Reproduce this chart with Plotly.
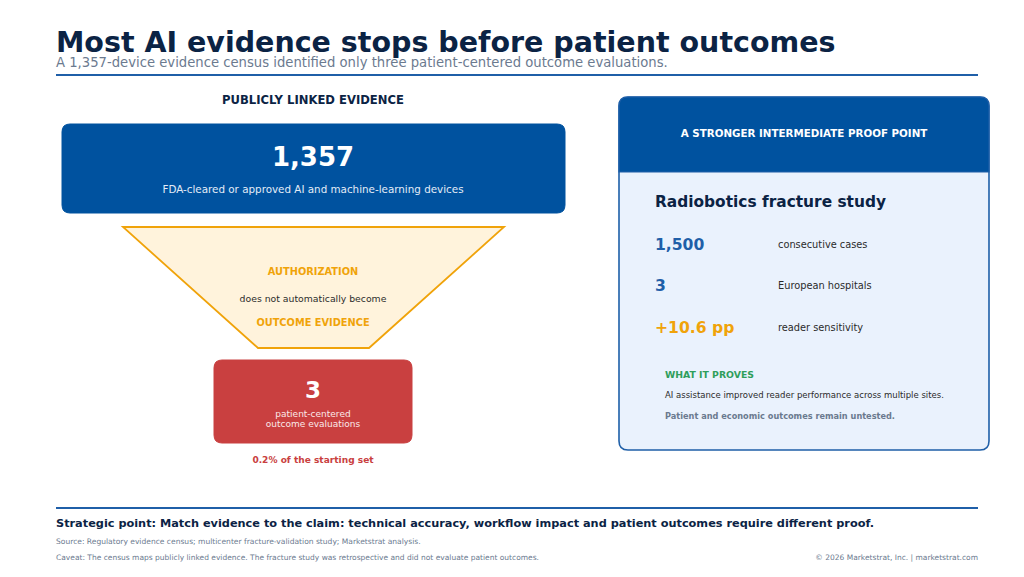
import plotly.graph_objects as go

# values
devices_total = 1357
outcome_evals = 3
funnel_steps = ["AUTHORIZATION", "does not automatically become", "OUTCOME EVIDENCE"]
study_values = ["1,500", "3", "+10.6 pp"]
study_labels = ["consecutive cases", "European hospitals", "reader sensitivity"]

NAVY = "#0b2344"
BLUE = "#00529f"
LINE = "#1f5fa8"
ORANGE = "#f0a30a"
RED = "#c94040"
GREEN = "#2e9e5b"
GRAY = "#6b7a8f"
DARK = "#2b2b2b"
FONT = "DejaVu Sans"


def rounded(x0, y0, x1, y1, r, top_only=False):
    # y grows downward (reversed axis), y0 is the top edge
    if top_only:
        return (f"M{x0},{y1} L{x0},{y0 + r} Q{x0},{y0} {x0 + r},{y0} "
                f"L{x1 - r},{y0} Q{x1},{y0} {x1},{y0 + r} L{x1},{y1} Z")
    return (f"M{x0 + r},{y0} L{x1 - r},{y0} Q{x1},{y0} {x1},{y0 + r} "
            f"L{x1},{y1 - r} Q{x1},{y1} {x1 - r},{y1} L{x0 + r},{y1} "
            f"Q{x0},{y1} {x0},{y1 - r} L{x0},{y0 + r} Q{x0},{y0} {x0 + r},{y0} Z")


fig = go.Figure()


def txt(x, y, s, size, color, bold=False, anchor="left"):
    pos = {"left": "middle right", "center": "middle center", "right": "middle left"}[anchor]
    fig.add_trace(go.Scatter(
        x=[x], y=[y + 1], mode="text", text=[f"<b>{s}</b>" if bold else s],
        textposition=pos, hoverinfo="skip", showlegend=False,
        textfont=dict(family=FONT, size=size, color=color)))


shapes = []
# header rules
shapes.append(dict(type="line", x0=56, x1=978, y0=75, y1=75, line=dict(color=LINE, width=2)))
shapes.append(dict(type="line", x0=56, x1=978, y0=508, y1=508, line=dict(color=LINE, width=2)))

# left funnel
shapes.append(dict(type="path", path=rounded(62, 124, 565, 213, 8), fillcolor=BLUE,
                   line=dict(color=BLUE, width=1)))
shapes.append(dict(type="path", path="M123,227 L504,227 L369,348 L258,348 Z",
                   fillcolor="#fff3dc", line=dict(color=ORANGE, width=1.8)))
shapes.append(dict(type="path", path=rounded(214, 360, 412, 443, 8), fillcolor=RED,
                   line=dict(color=RED, width=1)))

# right card
shapes.append(dict(type="path", path=rounded(619, 97, 989, 450, 9), fillcolor="#eaf2fd",
                   line=dict(color=LINE, width=1.6)))
shapes.append(dict(type="path", path=rounded(619, 97, 989, 172, 9, top_only=True),
                   fillcolor=BLUE, line=dict(color=LINE, width=1.2)))
for s in shapes:
    s["layer"] = "below"

# title block
txt(56, 43.5, "Most AI evidence stops before patient outcomes", 28.5, NAVY, bold=True)
txt(56, 62.5, "A 1,357-device evidence census identified only three patient-centered outcome evaluations.",
    13.2, GRAY)

# left column
txt(313, 100, "PUBLICLY LINKED EVIDENCE", 11.6, NAVY, bold=True, anchor="center")
txt(313, 158, f"{devices_total:,}", 26, "white", bold=True, anchor="center")
txt(313, 189, "FDA-cleared or approved AI and machine-learning devices", 10.35, "#e3ecf7", anchor="center")
txt(313, 272, funnel_steps[0], 9.8, ORANGE, bold=True, anchor="center")
txt(313, 299, funnel_steps[1], 9.3, DARK, anchor="center")
txt(313, 323, funnel_steps[2], 9.8, ORANGE, bold=True, anchor="center")
txt(313, 391, f"{outcome_evals}", 23, "white", bold=True, anchor="center")
txt(313, 414, "patient-centered", 9, "#fbe9e9", anchor="center")
txt(313, 424, "outcome evaluations", 9, "#fbe9e9", anchor="center")
share = outcome_evals / devices_total * 100
txt(313, 460, f"{share:.1f}% of the starting set", 9.05, RED, bold=True, anchor="center")

# right card
txt(804, 133, "A STRONGER INTERMEDIATE PROOF POINT", 10.3, "white", bold=True, anchor="center")
txt(655, 202, "Radiobotics fracture study", 15.4, NAVY, bold=True)
stat_y = [245, 286, 328]
stat_colors = [LINE, LINE, ORANGE]
for v, lab, y, c in zip(study_values, study_labels, stat_y, stat_colors):
    txt(655, y, v, 15.6, c, bold=True)
    txt(778, y, lab, 9.8, DARK)
txt(665, 375, "WHAT IT PROVES", 9.3, GREEN, bold=True)
txt(665, 395, "AI assistance improved reader performance across multiple sites.", 8.5, DARK)
txt(665, 416, "Patient and economic outcomes remain untested.", 8.2, GRAY, bold=True)

# footer
txt(56, 523, "Strategic point: Match evidence to the claim: technical accuracy, workflow impact and "
    "patient outcomes require different proof.", 11.3, NAVY, bold=True)
txt(56, 541, "Source: Regulatory evidence census; multicenter fracture-validation study; Marketstrat analysis.",
    7.55, GRAY)
txt(56, 557, "Caveat: The census maps publicly linked evidence. The fracture study was retrospective "
    "and did not evaluate patient outcomes.", 7.5, GRAY)
txt(978, 557, "© 2026 Marketstrat, Inc. | marketstrat.com", 7.5, GRAY, anchor="right")

# the page body adds an 8px offset, so the axes start at 8 to keep coordinates in page pixels
fig.update_layout(
    width=1024, height=577, margin=dict(l=0, r=0, t=0, b=0),
    paper_bgcolor="white", plot_bgcolor="white", shapes=shapes,
    xaxis=dict(range=[8, 1032], visible=False, fixedrange=True),
    yaxis=dict(range=[585, 8], visible=False, fixedrange=True),
)
fig.write_html("out.html")
